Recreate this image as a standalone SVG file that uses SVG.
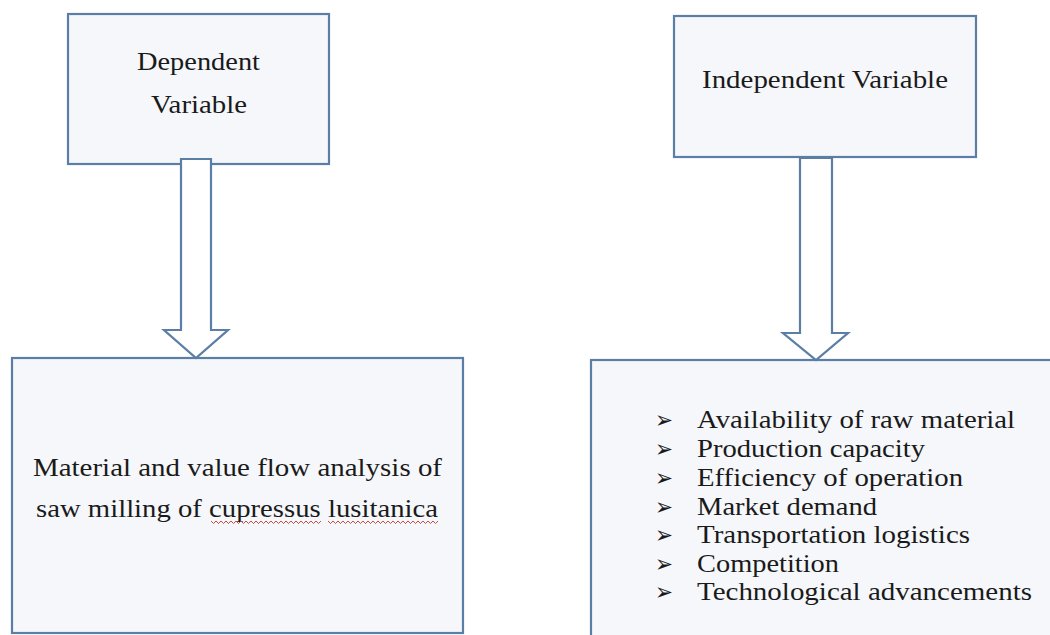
<svg xmlns="http://www.w3.org/2000/svg" width="1050" height="635" viewBox="0 0 1050 635">
<style>
.box{fill:#f5f7fa;stroke:#5a7ea6;stroke-width:2.2}
.arrow{fill:#ffffff;stroke:#5a7ea6;stroke-width:2.2;stroke-linejoin:miter}
.t{font-family:"Liberation Serif","Times New Roman",serif;font-size:25.5px;fill:#1a1a1a}
.b{font-family:"DejaVu Sans",sans-serif;font-size:24px;font-weight:bold}
.sq{fill:none;stroke:#c0392b;stroke-width:0.9}
</style>
<rect width="1050" height="635" fill="#ffffff"/>
<g id="dependent">
<rect class="box" x="68" y="14" width="261" height="150"/>
<text class="t" x="137" y="70" textLength="123" lengthAdjust="spacingAndGlyphs">Dependent</text>
<text class="t" x="151" y="112.5" textLength="96" lengthAdjust="spacingAndGlyphs">Variable</text>
</g>
<g id="independent">
<rect class="box" x="674" y="16" width="302" height="141"/>
<text class="t" x="702" y="88" textLength="246" lengthAdjust="spacingAndGlyphs">Independent Variable</text>
</g>
<g id="dependent-detail">
<rect class="box" x="12" y="358" width="451" height="275"/>
<text class="t" x="33" y="475.5" textLength="409" lengthAdjust="spacingAndGlyphs">Material and value flow analysis of</text>
<text class="t" x="36" y="516.5" textLength="402" lengthAdjust="spacingAndGlyphs">saw milling of cupressus lusitanica</text>
<path class="sq" d="M211 521 l2.5 2.5 l2.5 -2.5 l2.5 2.5 l2.5 -2.5 l2.5 2.5 l2.5 -2.5 l2.5 2.5 l2.5 -2.5 l2.5 2.5 l2.5 -2.5 l2.5 2.5 l2.5 -2.5 l2.5 2.5 l2.5 -2.5 l2.5 2.5 l2.5 -2.5 l2.5 2.5 l2.5 -2.5 l2.5 2.5 l2.5 -2.5 l2.5 2.5 l2.5 -2.5 l2.5 2.5 l2.5 -2.5 l2.5 2.5 l2.5 -2.5 l2.5 2.5 l2.5 -2.5 l2.5 2.5 l2.5 -2.5 l2.5 2.5 l2.5 -2.5 l2.5 2.5 l2.5 -2.5 l2.5 2.5 l2.5 -2.5 l2.5 2.5 l2.5 -2.5 l2.5 2.5 l2.5 -2.5 l2.5 2.5 l2.5 -2.5 l2.5 2.5 l2.5 -2.5"/>
<path class="sq" d="M328 521 l2.5 2.5 l2.5 -2.5 l2.5 2.5 l2.5 -2.5 l2.5 2.5 l2.5 -2.5 l2.5 2.5 l2.5 -2.5 l2.5 2.5 l2.5 -2.5 l2.5 2.5 l2.5 -2.5 l2.5 2.5 l2.5 -2.5 l2.5 2.5 l2.5 -2.5 l2.5 2.5 l2.5 -2.5 l2.5 2.5 l2.5 -2.5 l2.5 2.5 l2.5 -2.5 l2.5 2.5 l2.5 -2.5 l2.5 2.5 l2.5 -2.5 l2.5 2.5 l2.5 -2.5 l2.5 2.5 l2.5 -2.5 l2.5 2.5 l2.5 -2.5 l2.5 2.5 l2.5 -2.5 l2.5 2.5 l2.5 -2.5 l2.5 2.5 l2.5 -2.5 l2.5 2.5 l2.5 -2.5 l2.5 2.5 l2.5 -2.5 l2.5 2.5 l2.5 -2.5"/>
</g>
<g id="independent-detail">
<rect class="box" x="591" y="360" width="470" height="290"/>
<text class="t" y="428"><tspan class="b" x="655" textLength="18" lengthAdjust="spacingAndGlyphs">➢</tspan><tspan x="697" textLength="318" lengthAdjust="spacingAndGlyphs">Availability of raw material</tspan></text>
<text class="t" y="457"><tspan class="b" x="655" textLength="18" lengthAdjust="spacingAndGlyphs">➢</tspan><tspan x="697" textLength="228" lengthAdjust="spacingAndGlyphs">Production capacity</tspan></text>
<text class="t" y="486"><tspan class="b" x="655" textLength="18" lengthAdjust="spacingAndGlyphs">➢</tspan><tspan x="697" textLength="266" lengthAdjust="spacingAndGlyphs">Efficiency of operation</tspan></text>
<text class="t" y="514.5"><tspan class="b" x="655" textLength="18" lengthAdjust="spacingAndGlyphs">➢</tspan><tspan x="697" textLength="180" lengthAdjust="spacingAndGlyphs">Market demand</tspan></text>
<text class="t" y="543"><tspan class="b" x="655" textLength="18" lengthAdjust="spacingAndGlyphs">➢</tspan><tspan x="697" textLength="273" lengthAdjust="spacingAndGlyphs">Transportation logistics</tspan></text>
<text class="t" y="571.5"><tspan class="b" x="655" textLength="18" lengthAdjust="spacingAndGlyphs">➢</tspan><tspan x="697" textLength="142" lengthAdjust="spacingAndGlyphs">Competition</tspan></text>
<text class="t" y="600"><tspan class="b" x="655" textLength="18" lengthAdjust="spacingAndGlyphs">➢</tspan><tspan x="697" textLength="335" lengthAdjust="spacingAndGlyphs">Technological advancements</tspan></text>
</g>
<g id="connectors">
<path class="arrow" d="M181 159 L211 159 L211 330 L228 330 L196 358 L164 330 L181 330 Z"/>
<path class="arrow" d="M800 158 L832 158 L832 333 L848 333 L816 360 L783 333 L800 333 Z"/>
</g>
</svg>
